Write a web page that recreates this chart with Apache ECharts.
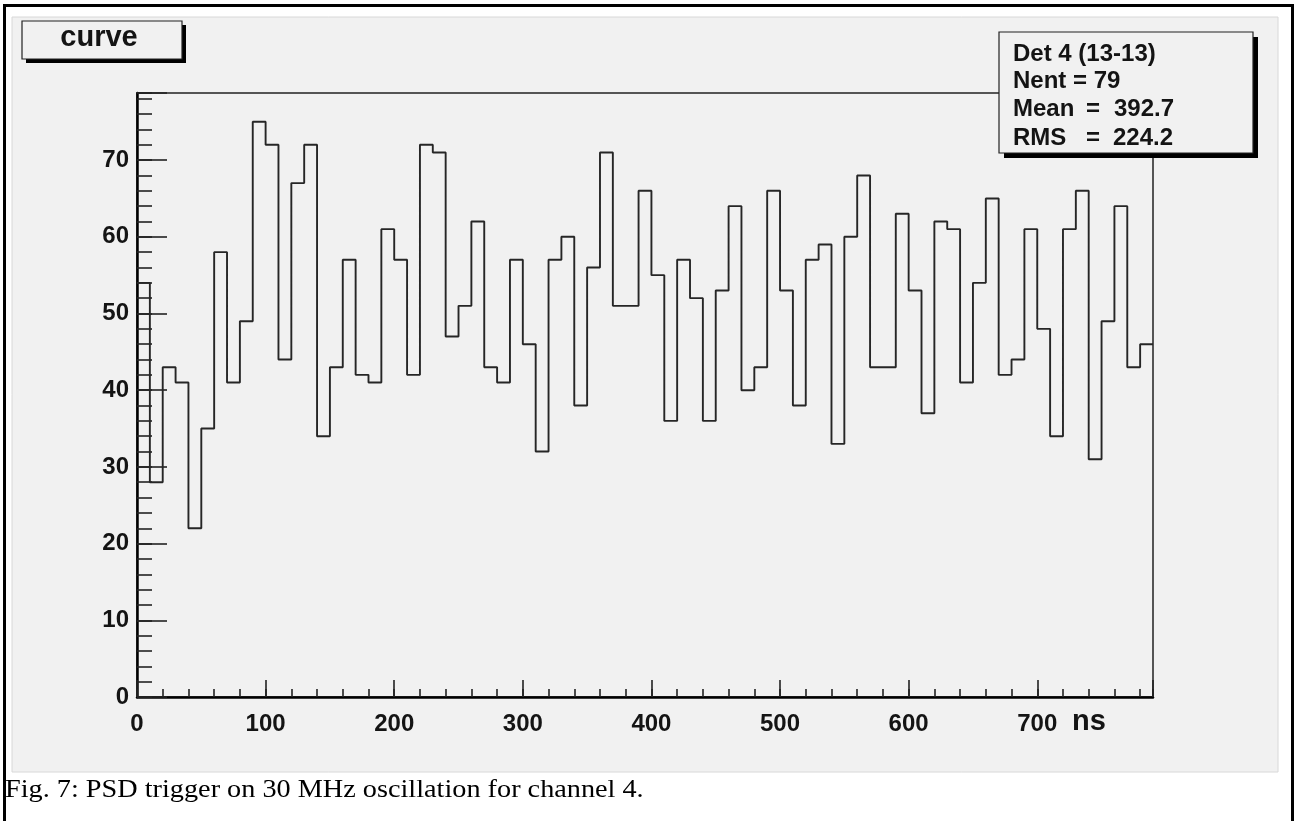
<!DOCTYPE html>
<html>
<head>
<meta charset="utf-8">
<script src="https://cdn.jsdelivr.net/npm/echarts@6/dist/echarts.min.js"></script>
<style>
html,body{margin:0;padding:0;background:#ffffff;}
#chart{width:1297px;height:821px;}
</style>
</head>
<body>
<div id="chart"></div>
<script>
// ---- data ----
const binWidth = 10;          // ns per bin
const xMin = 0;
const xMax = 790;
const yMax = 78.75;
const counts = [
  54,28,43,41,22,35,58,41,49,75,
  72,44,67,72,34,43,57,42,41,61,
  57,42,72,71,47,51,62,43,41,57,
  46,32,57,60,38,56,71,51,51,66,
  55,36,57,52,36,53,64,40,43,66,
  53,38,57,59,33,60,68,43,43,63,
  53,37,62,61,41,54,65,42,44,61,
  48,34,61,66,31,49,64,43,46
];
const xTickLabels = [0,100,200,300,400,500,600,700];
const yTickLabels = [0,10,20,30,40,50,60,70];
const xUnit = 'ns';
const histTitle = 'curve';
const statTitle = 'Det 4 (13-13)';
const statLabels = ['Nent = 79', 'Mean', 'RMS'];
const statValues = ['', '392.7', '224.2'];
const caption = 'Fig. 7: PSD trigger on 30 MHz oscillation for channel 4.';

// step outline of the histogram: left edge of each bin + closing right edge
const stepData = counts.map((v, i) => [xMin + i * binWidth, v]);
stepData.push([xMin + counts.length * binWidth, counts[counts.length - 1]]);

const SANS = '"Liberation Sans", Arial, Helvetica, sans-serif';
const SERIF = '"Liberation Serif", "Times New Roman", serif';
const INK = '#141414';

const statX = 1013;
const statRowsY = [81, 109, 138];
const statEqX = [null, 1086, 1086];
const statValX = [null, 1114, 1113];

const graphics = [
  // outer black border
  { type: 'rect', z: -30, silent: true,
    shape: { x: 4.5, y: 5.5, width: 1288, height: 840 },
    style: { fill: 'none', stroke: '#000', lineWidth: 3 } },
  // grey canvas
  { type: 'rect', z: -20, silent: true,
    shape: { x: 12, y: 17, width: 1266, height: 755 },
    style: { fill: '#f1f1f1', stroke: '#d8d8d8', lineWidth: 1 } },
  // title box with shadow
  { type: 'rect', z: 50, silent: true,
    shape: { x: 26, y: 25, width: 160, height: 38 },
    style: { fill: '#000' } },
  { type: 'rect', z: 51, silent: true,
    shape: { x: 22, y: 21, width: 160, height: 38 },
    style: { fill: '#f1f1f1', stroke: '#222', lineWidth: 1.2 } },
  { type: 'text', z: 52, silent: true,
    style: { x: 99, y: 38, text: histTitle, align: 'center', verticalAlign: 'middle',
             font: 'bold 29px ' + SANS, fill: INK } },
  // stats box with shadow
  { type: 'rect', z: 50, silent: true,
    shape: { x: 1004, y: 37, width: 254, height: 121 },
    style: { fill: '#000' } },
  { type: 'rect', z: 51, silent: true,
    shape: { x: 999, y: 32, width: 254, height: 121 },
    style: { fill: '#f1f1f1', stroke: '#222', lineWidth: 1.2 } },
  { type: 'text', z: 52, silent: true,
    style: { x: statX, y: 54, text: statTitle, align: 'left', verticalAlign: 'middle',
             font: 'bold 24px ' + SANS, fill: INK } },
  // x unit
  { type: 'text', z: 52, silent: true,
    style: { x: 1072, y: 722, text: xUnit, align: 'left', verticalAlign: 'middle',
             font: 'bold 29px ' + SANS, fill: INK } },
  // caption (slightly wide serif, as in the reference)
  { type: 'text', z: 52, silent: true, x: 5, y: 790, scaleX: 1.13,
    style: { x: 0, y: 0, text: caption, align: 'left', verticalAlign: 'middle',
             font: '25px ' + SERIF, fill: '#000' } }
];
statLabels.forEach((lab, i) => {
  graphics.push({ type: 'text', z: 52, silent: true,
    style: { x: statX, y: statRowsY[i], text: lab, align: 'left', verticalAlign: 'middle',
             font: 'bold 24px ' + SANS, fill: INK } });
  if (statValues[i]) {
    graphics.push({ type: 'text', z: 52, silent: true,
      style: { x: statEqX[i], y: statRowsY[i], text: '=', align: 'left', verticalAlign: 'middle',
               font: 'bold 24px ' + SANS, fill: INK } });
    graphics.push({ type: 'text', z: 52, silent: true,
      style: { x: statValX[i], y: statRowsY[i], text: statValues[i], align: 'left', verticalAlign: 'middle',
               font: 'bold 24px ' + SANS, fill: INK } });
  }
});

const chart = echarts.init(document.getElementById('chart'), null, { renderer: 'canvas' });
chart.setOption({
  animation: false,
  backgroundColor: 'transparent',
  grid: {
    left: 137, top: 93, width: 1016, height: 604,
    show: true, backgroundColor: 'transparent',
    borderColor: '#222', borderWidth: 1.5
  },
  xAxis: [
    {
      type: 'value', min: xMin, max: xMax, interval: 100, position: 'bottom',
      axisLine: { show: true, onZero: false, lineStyle: { color: '#000', width: 2.5 } },
      axisTick: { show: true, inside: true, length: 17, lineStyle: { color: '#222', width: 1.6 } },
      axisLabel: {
        show: true, margin: 15, color: INK,
        fontFamily: SANS, fontWeight: 'bold', fontSize: 24,
        formatter: v => (xTickLabels.indexOf(v) >= 0 ? String(v) : '')
      },
      splitLine: { show: false }
    },
    {
      type: 'value', min: xMin, max: xMax, interval: 20, position: 'bottom',
      axisLine: { show: false },
      axisTick: { show: true, inside: true, length: 8, lineStyle: { color: '#222', width: 1.6 } },
      axisLabel: { show: false },
      splitLine: { show: false }
    }
  ],
  yAxis: [
    {
      type: 'value', min: 0, max: yMax, interval: 10, position: 'left',
      axisLine: { show: true, onZero: false, lineStyle: { color: '#000', width: 2.5 } },
      axisTick: { show: true, inside: true, length: 30, lineStyle: { color: '#222', width: 1.6 } },
      axisLabel: {
        show: true, margin: 8, color: INK,
        fontFamily: SANS, fontWeight: 'bold', fontSize: 24,
        formatter: v => (yTickLabels.indexOf(v) >= 0 ? String(v) : '')
      },
      splitLine: { show: false }
    },
    {
      type: 'value', min: 0, max: yMax, interval: 2, position: 'left',
      axisLine: { show: false },
      axisTick: { show: true, inside: true, length: 15, lineStyle: { color: '#222', width: 1.6 } },
      axisLabel: { show: false },
      splitLine: { show: false }
    }
  ],
  series: [
    {
      type: 'line', xAxisIndex: 0, yAxisIndex: 0,
      step: 'end', data: stepData,
      showSymbol: false, symbol: 'none',
      lineStyle: { color: '#262626', width: 1.9 },
      z: 5
    }
  ],
  graphic: graphics
});
</script>
</body>
</html>
